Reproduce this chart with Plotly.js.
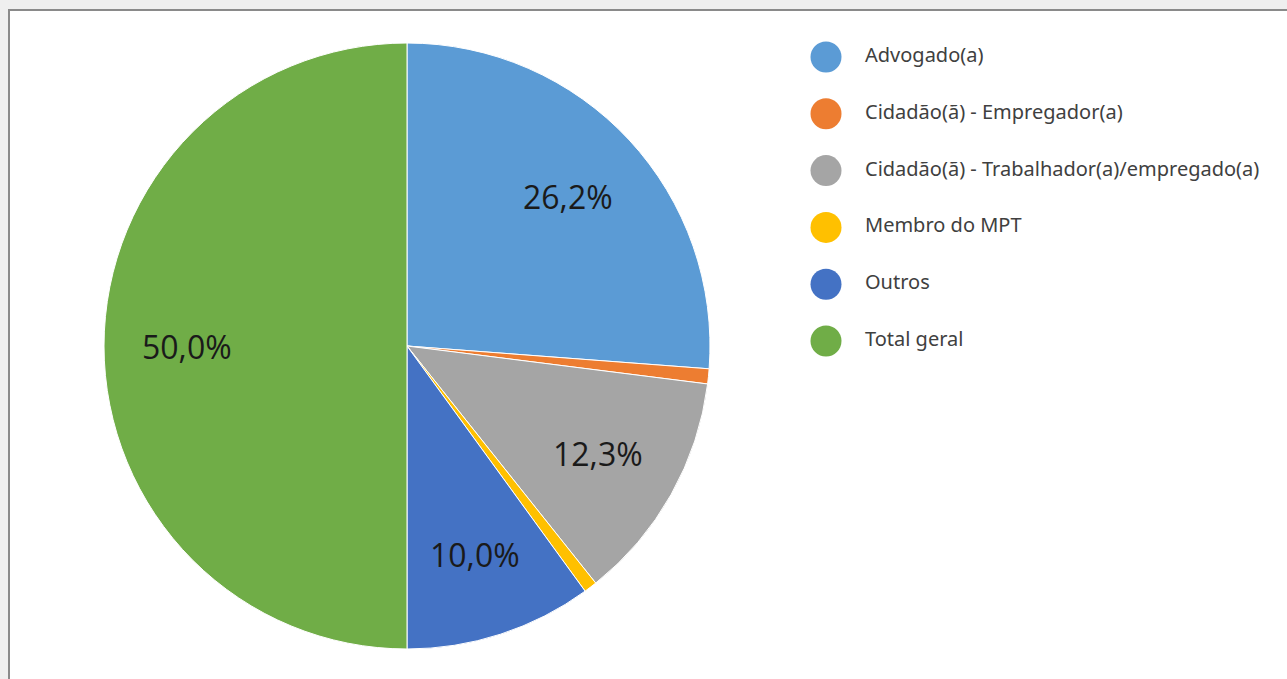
<!DOCTYPE html>
<html>
<head>
<meta charset="utf-8">
<script src="https://cdn.plot.ly/plotly-3.0.1.min.js"></script>
<style>
  html, body { margin: 0; padding: 0; background: #efefef; overflow: hidden; width: 1287px; height: 679px; }
  #frame { position: absolute; left: 8px; top: 9px; width: 1300px; height: 700px; border: 2px solid #8a8a8a; background: #ffffff; }
  #chart { position: absolute; left: 0; top: 0; width: 1290px; height: 680px; }
</style>
</head>
<body>
<div id="frame"><div id="chart"></div></div>
<script>
const categories = [
  "Advogado(a)",
  "Cidadão(ã) - Empregador(a)",
  "Cidadão(ã) - Trabalhador(a)/empregado(a)",
  "Membro do MPT",
  "Outros",
  "Total geral"
];
const shares = [26.2, 0.8, 12.3, 0.7, 10.0, 50.0];
const colors = ["#5B9BD5", "#ED7D31", "#A5A5A5", "#FFC000", "#4472C4", "#70AD47"];

const W = 1290, H = 680;
const cx = 397, cy = 335, R = 303;
const labelRadius = 0.725 * R;

const fmt = v => v.toFixed(1).replace(".", ",") + "%";

const pie = {
  type: "pie",
  labels: categories,
  values: shares,
  textinfo: "none",
  sort: false,
  direction: "clockwise",
  rotation: 0,
  marker: { colors: colors, line: { color: "#ffffff", width: 1 } },
  domain: { x: [(cx - R) / W, (cx + R) / W], y: [(H - cy - R) / H, (H - cy + R) / H] },
  showlegend: false,
  hoverinfo: "none"
};

// data labels placed at each slice's mid-angle (derived from the values)
const total = shares.reduce((a, b) => a + b, 0);
const annotations = [];
let acc = 0;
shares.forEach(v => {
  const mid = (acc + v / 2) / total * 2 * Math.PI;
  acc += v;
  if (v < 5) return;
  const px = cx + labelRadius * Math.sin(mid);
  const py = cy - labelRadius * Math.cos(mid);
  annotations.push({
    xref: "paper", yref: "paper",
    x: px / W, y: (H - py) / H,
    xanchor: "center", yanchor: "middle",
    text: fmt(v), showarrow: false,
    font: { family: "Open Sans, Noto Sans, sans-serif", size: 32, color: "#1a1a1a" }
  });
});

const rowTop = 46, rowStep = 56.8;
const yTop = rowTop - rowStep / 2, yBot = yTop + rowStep * categories.length;

const legendDots = {
  type: "scatter",
  mode: "markers",
  x: categories.map(() => 16),
  y: categories,
  marker: { color: colors, size: 31, line: { width: 0 } },
  xaxis: "x", yaxis: "y",
  showlegend: false,
  hoverinfo: "none"
};
const legendText = {
  type: "scatter",
  mode: "text",
  x: categories.map(() => 55),
  y: categories,
  text: categories,
  textposition: "middle right",
  textfont: { family: "Noto Sans, Open Sans, sans-serif", size: 20, color: "#404040" },
  xaxis: "x", yaxis: "y",
  showlegend: false,
  hoverinfo: "none"
};

const layout = {
  width: W, height: H,
  margin: { l: 0, r: 0, t: 0, b: 0 },
  paper_bgcolor: "#ffffff",
  plot_bgcolor: "rgba(0,0,0,0)",
  showlegend: false,
  annotations: annotations,
  xaxis: { domain: [800 / W, 1], range: [0, W - 800], visible: false, fixedrange: true },
  yaxis: { domain: [(H - yBot) / H, (H - yTop) / H], type: "category",
           range: [categories.length - 0.5, -0.5], visible: false, fixedrange: true }
};

Plotly.newPlot("chart", [pie, legendDots, legendText], layout, { displayModeBar: false, staticPlot: true });
</script>
</body>
</html>
